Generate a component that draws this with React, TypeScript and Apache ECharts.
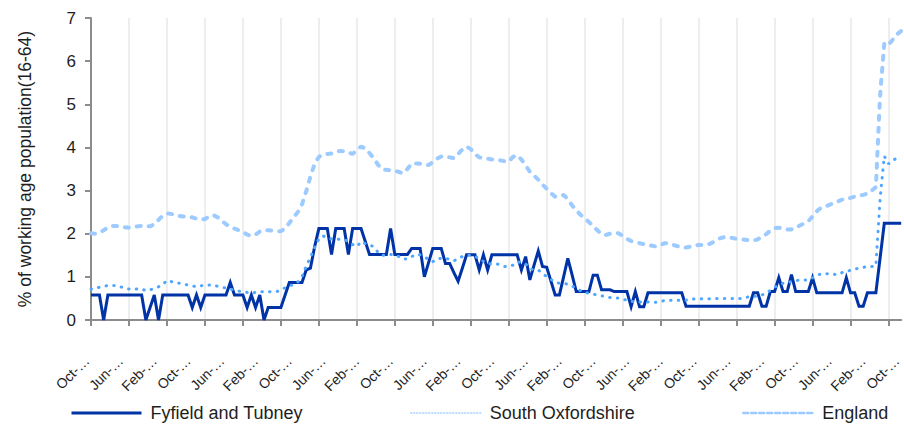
import React, { useEffect, useRef } from "react";
import * as echarts from "echarts";

const MONTHS = ["Jan", "Feb", "Mar", "Apr", "May", "Jun", "Jul", "Aug", "Sep", "Oct", "Nov", "Dec"];
const START_YEAR = 2004;
const START_MONTH = 9; // October
const N_POINTS = 193;
const categories: string[] = Array.from({ length: N_POINTS }, (_, i) => {
  const m = (START_MONTH + i) % 12;
  const y = START_YEAR + Math.floor((START_MONTH + i) / 12);
  return `${MONTHS[m]}-${String(y).slice(2)}`;
});

const seriesNames = ["Fyfield and Tubney", "South Oxfordshire", "England"];

const fyfield = [
  0.58, 0.58, 0.58, 0, 0.58, 0.58, 0.58, 0.58, 0.58, 0.58,
  0.58, 0.58, 0.58, 0, 0.29, 0.58, 0, 0.58, 0.58, 0.58,
  0.58, 0.58, 0.58, 0.58, 0.29, 0.58, 0.29, 0.58, 0.58, 0.58,
  0.58, 0.58, 0.58, 0.87, 0.58, 0.58, 0.58, 0.29, 0.58, 0.29,
  0.58, 0, 0.29, 0.29, 0.29, 0.29, 0.58, 0.87, 0.87, 0.87,
  0.87, 1.16, 1.2, 1.7, 2.12, 2.12, 2.12, 1.52, 2.12, 2.12,
  2.12, 1.52, 2.12, 2.12, 2.12, 1.82, 1.52, 1.52, 1.52, 1.52,
  1.52, 2.12, 1.52, 1.52, 1.52, 1.52, 1.66, 1.66, 1.66, 1.0,
  1.33, 1.66, 1.66, 1.66, 1.31, 1.31, 1.1, 0.9, 1.2, 1.51,
  1.51, 1.51, 1.16, 1.51, 1.16, 1.51, 1.51, 1.51, 1.51, 1.51,
  1.51, 1.51, 1.16, 1.47, 0.93, 1.27, 1.6, 1.24, 1.22, 0.9,
  0.58, 0.58, 1.0, 1.43, 1.05, 0.66, 0.66, 0.66, 0.66, 1.04,
  1.04, 0.7, 0.7, 0.7, 0.66, 0.66, 0.66, 0.66, 0.31, 0.66,
  0.31, 0.31, 0.63, 0.63, 0.63, 0.63, 0.63, 0.63, 0.63, 0.63,
  0.63, 0.32, 0.32, 0.32, 0.32, 0.32, 0.32, 0.32, 0.32, 0.32,
  0.32, 0.32, 0.32, 0.32, 0.32, 0.32, 0.32, 0.63, 0.63, 0.32,
  0.32, 0.66, 0.66, 0.98, 0.66, 0.66, 1.05, 0.66, 0.66, 0.66,
  0.66, 0.98, 0.63, 0.63, 0.63, 0.63, 0.63, 0.63, 0.63, 0.98,
  0.63, 0.63, 0.32, 0.32, 0.63, 0.63, 0.63, 1.43, 2.24, 2.24,
  2.24, 2.24, 2.24,
];

const southOxfordshire = [
  0.72, 0.73, 0.76, 0.78, 0.8, 0.8, 0.8, 0.77, 0.73, 0.72,
  0.71, 0.72, 0.72, 0.68, 0.7, 0.73, 0.77, 0.82, 0.92, 0.89,
  0.87, 0.85, 0.83, 0.81, 0.79, 0.77, 0.79, 0.81, 0.81, 0.81,
  0.78, 0.76, 0.74, 0.72, 0.69, 0.67, 0.65, 0.64, 0.62, 0.64,
  0.65, 0.66, 0.66, 0.65, 0.66, 0.69, 0.75, 0.8, 0.81, 0.88,
  1.0, 1.25, 1.45, 1.68, 1.88, 1.95, 1.9, 1.88, 1.88, 1.87,
  1.86, 1.82, 1.75, 1.7, 1.82, 1.77, 1.74, 1.7, 1.57, 1.5,
  1.5, 1.52, 1.5, 1.47, 1.41, 1.42, 1.47, 1.52, 1.51, 1.47,
  1.4, 1.35, 1.42, 1.43, 1.43, 1.4, 1.37, 1.43, 1.47, 1.5,
  1.5, 1.48, 1.42, 1.36, 1.31, 1.3, 1.31, 1.27, 1.24, 1.25,
  1.27, 1.35, 1.33, 1.3, 1.19, 1.16, 1.16, 1.07, 1.01, 0.94,
  0.88, 0.85, 0.85, 0.83, 0.79, 0.73, 0.68, 0.64, 0.62, 0.6,
  0.58, 0.56, 0.54, 0.52, 0.51, 0.51, 0.48, 0.46, 0.43, 0.42,
  0.42, 0.42, 0.42, 0.41, 0.41, 0.43, 0.45, 0.46, 0.46, 0.46,
  0.46, 0.46, 0.47, 0.49, 0.49, 0.49, 0.49, 0.49, 0.5, 0.5,
  0.5, 0.5, 0.5, 0.5, 0.5, 0.52, 0.54, 0.55, 0.55, 0.58,
  0.62, 0.69, 0.76, 0.81, 0.85, 0.87, 0.89, 0.91, 0.93, 0.93,
  0.93, 0.98, 1.03, 1.07, 1.07, 1.07, 1.06, 1.05, 1.1, 1.13,
  1.15, 1.18, 1.2, 1.22, 1.24, 1.24, 1.25, 2.8, 3.8, 3.62,
  3.7, 3.75, 3.78,
];

const england = [
  2.01, 2.0, 2.02, 2.08, 2.15, 2.18, 2.18, 2.16, 2.15, 2.14,
  2.15, 2.17, 2.18, 2.18, 2.17, 2.22, 2.32, 2.42, 2.47, 2.46,
  2.43, 2.41, 2.4, 2.4, 2.38, 2.35, 2.33, 2.34, 2.4, 2.43,
  2.38, 2.3, 2.22, 2.16, 2.12, 2.08, 2.04, 1.98, 1.95, 1.98,
  2.05, 2.09, 2.08, 2.07, 2.06, 2.06, 2.12, 2.25, 2.38, 2.5,
  2.68, 2.98, 3.32, 3.62, 3.78, 3.84, 3.85, 3.86, 3.9, 3.92,
  3.91, 3.88, 3.85, 3.93, 4.02, 3.98, 3.87, 3.75, 3.6, 3.49,
  3.48, 3.47, 3.46, 3.43, 3.4, 3.5, 3.63, 3.63, 3.62, 3.61,
  3.59, 3.66, 3.74, 3.79, 3.78, 3.77, 3.75, 3.85, 3.95, 4.02,
  3.96, 3.85, 3.77, 3.75, 3.74, 3.72, 3.71, 3.7, 3.68, 3.67,
  3.78, 3.82, 3.72, 3.58, 3.44, 3.35, 3.25, 3.14, 3.04, 2.94,
  2.86, 2.87, 2.9, 2.8, 2.66, 2.54, 2.44, 2.36, 2.27, 2.18,
  2.08, 1.99, 1.97, 2.0, 2.02, 2.01, 1.95, 1.88, 1.83, 1.81,
  1.78, 1.76, 1.74, 1.72, 1.7, 1.74, 1.78, 1.77, 1.74, 1.71,
  1.69, 1.68, 1.7, 1.72, 1.74, 1.74, 1.74, 1.78, 1.84, 1.89,
  1.92, 1.92, 1.9, 1.88, 1.87, 1.86, 1.85, 1.84, 1.87, 1.93,
  1.99, 2.07, 2.13, 2.14, 2.12, 2.1, 2.1, 2.14, 2.19, 2.24,
  2.29, 2.4, 2.52, 2.6, 2.63, 2.67, 2.71, 2.75, 2.79, 2.81,
  2.83, 2.86, 2.88, 2.9, 2.93, 3.0, 3.08, 5.2, 6.42, 6.38,
  6.5, 6.62, 6.7,
];

const yTicks = { min: 0, max: 7, interval: 1 };

const FONT = "'Liberation Sans', Arial, sans-serif";
const AXIS_GRAY = "#8c8c8c";
const TEXT = "#1e1e1e";
const COLORS = ["#0033a6", "#4ea6ff", "#9dcbff"];

export default function App() {
  const ref = useRef<HTMLDivElement>(null);

  useEffect(() => {
    if (!ref.current) return;
    const chart = echarts.init(ref.current, undefined, { renderer: "svg" });
    const legendBase = {
      top: 399,
      itemWidth: 70,
      itemHeight: 14,
      itemStyle: { opacity: 0 },
      textStyle: { fontSize: 18, color: TEXT, fontFamily: FONT, padding: [0, 0, 0, 4] },
      selectedMode: false,
    };
    chart.setOption({
      animation: false,
      backgroundColor: "#ffffff",
      grid: { left: 91, right: -5, top: 18, bottom: 105, containLabel: false },
      legend: [
        { ...legendBase, left: 65, data: [seriesNames[0]], lineStyle: { width: 3, color: COLORS[0] } },
        { ...legendBase, left: 405, data: [seriesNames[1]], lineStyle: { width: 1.5, color: "#a8d3ff", type: [1, 2] } },
        { ...legendBase, left: 737, data: [seriesNames[2]], lineStyle: { width: 2.5, color: COLORS[2], type: [5, 3] } },
      ],
      xAxis: {
        type: "category",
        data: categories,
        boundaryGap: false,
        axisLine: { lineStyle: { color: AXIS_GRAY, width: 2 } },
        axisTick: { show: true, interval: 8, length: 6, lineStyle: { color: AXIS_GRAY, width: 2 } },
        axisLabel: {
          interval: 7,
          rotate: 45,
          margin: 34,
          fontSize: 14,
          color: TEXT,
          fontFamily: FONT,
          padding: [0, 6, 0, 0],
          formatter: (v: string) => v.slice(0, 4) + "…",
        },
        splitLine: { show: true, interval: 8, lineStyle: { color: "#e8e8e8", width: 1.5 } },
      },
      yAxis: {
        type: "value",
        min: yTicks.min,
        max: yTicks.max,
        interval: yTicks.interval,
        name: "% of working age population(16-64)",
        nameLocation: "middle",
        nameRotate: 90,
        nameGap: 57,
        nameTextStyle: { fontSize: 17.5, color: TEXT, fontFamily: FONT },
        axisLine: { show: true, lineStyle: { color: AXIS_GRAY, width: 2 } },
        axisTick: { show: true, length: 6, lineStyle: { color: AXIS_GRAY, width: 2 } },
        axisLabel: { fontSize: 17, color: TEXT, fontFamily: FONT, margin: 15 },
        splitLine: { show: false },
      },
      series: [
        {
          name: seriesNames[0],
          type: "line",
          data: fyfield,
          symbol: "none",
          color: COLORS[0],
          lineStyle: { width: 3, color: COLORS[0], join: "miter" },
        },
        {
          name: seriesNames[1],
          type: "line",
          data: southOxfordshire,
          symbol: "none",
          color: COLORS[1],
          lineStyle: { width: 3, color: COLORS[1], type: [0.5, 7.2], cap: "round" },
        },
        {
          name: seriesNames[2],
          type: "line",
          data: england,
          symbol: "none",
          color: COLORS[2],
          lineStyle: { width: 4, color: COLORS[2], type: [4, 8], cap: "round" },
        },
      ],
    });
    return () => chart.dispose();
  }, []);

  return (
    <div
      ref={ref}
      style={{ position: "absolute", left: 0, top: 0, width: 904, height: 425, background: "#fff" }}
    />
  );
}
